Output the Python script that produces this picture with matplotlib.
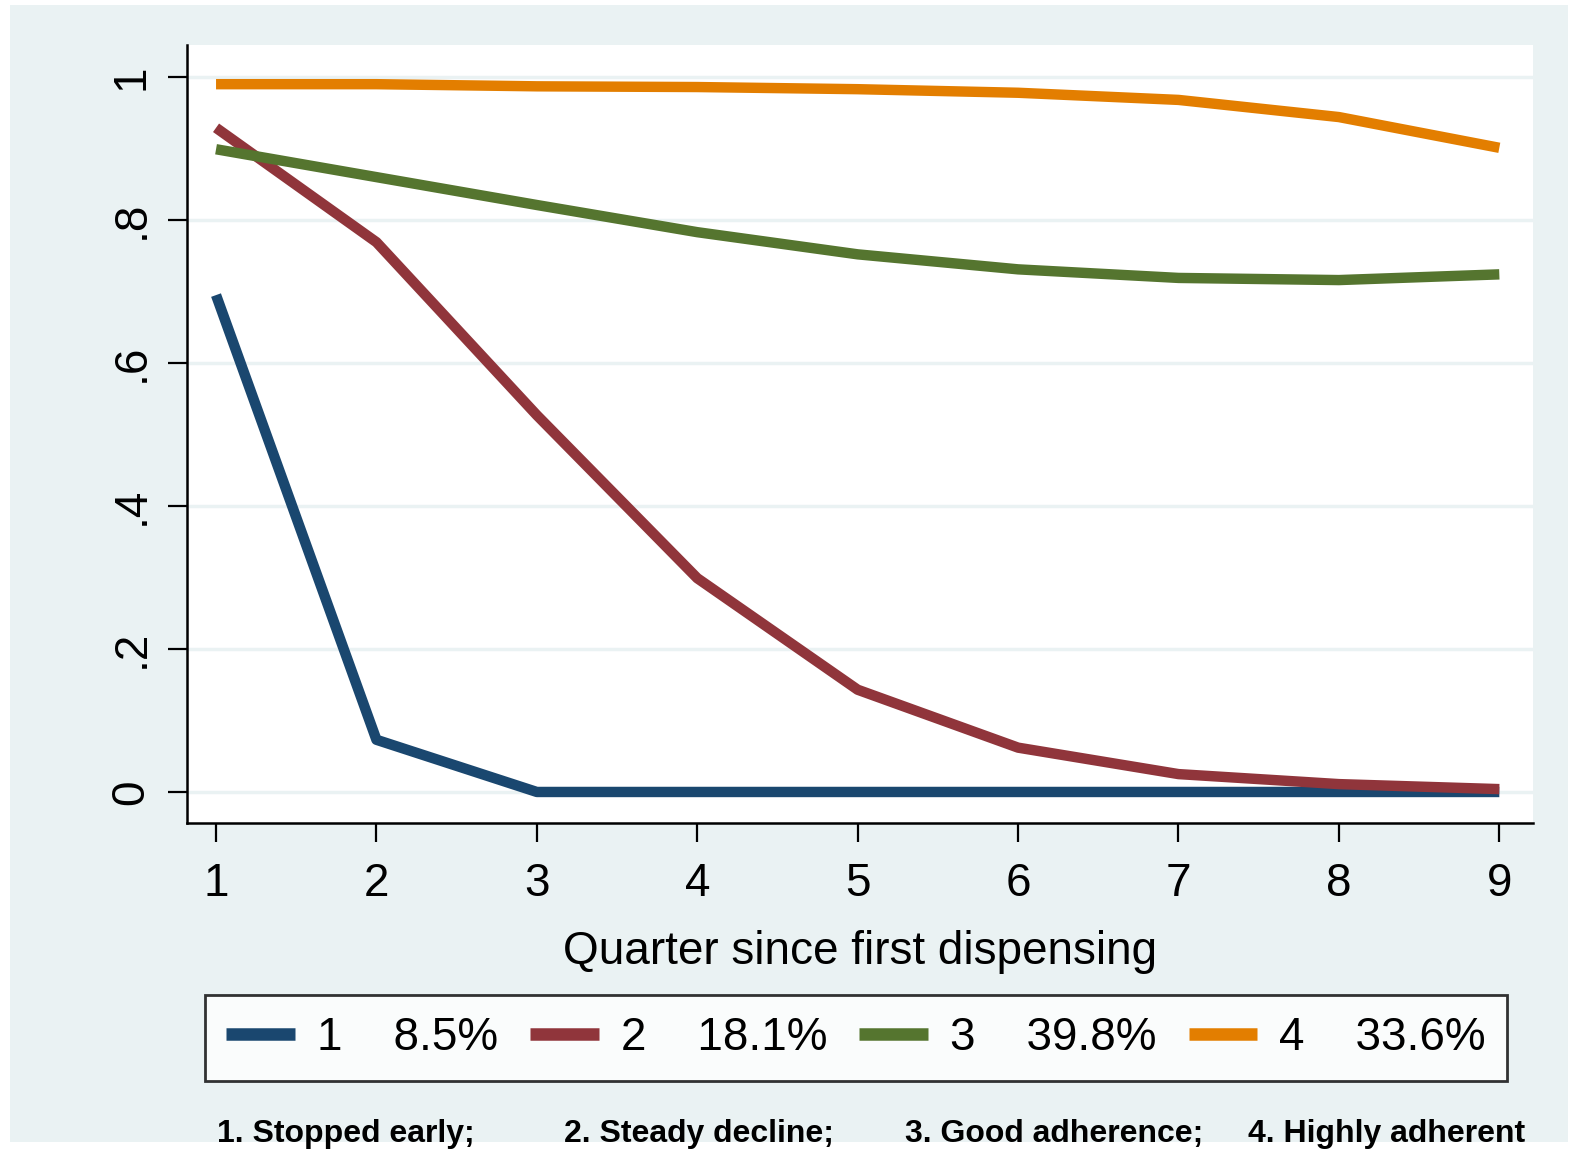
import matplotlib
matplotlib.use('Agg')
import matplotlib.pyplot as plt
from matplotlib.patches import Rectangle

quarters = [1, 2, 3, 4, 5, 6, 7, 8, 9]
groups = ['1', '2', '3', '4']
shares = ['8.5%', '18.1%', '39.8%', '33.6%']
g1 = [0.695, 0.073, 0.0, 0.0, 0.0, 0.0, 0.0, 0.0, 0.0]
g2 = [0.929, 0.769, 0.527, 0.299, 0.143, 0.062, 0.025, 0.011, 0.004]
g3 = [0.899, 0.860, 0.821, 0.783, 0.752, 0.731, 0.719, 0.716, 0.724]
g4 = [0.990, 0.990, 0.987, 0.986, 0.983, 0.978, 0.968, 0.944, 0.901]
yticks = [0, 0.2, 0.4, 0.6, 0.8, 1.0]
ytick_labels = ['0', '.2', '.4', '.6', '.8', '1']
notes = ['1. Stopped early;', '2. Steady decline;', '3. Good adherence;', '4. Highly adherent']
note_x = [346, 699, 1054, 1387]

colors = ['#1A476F', '#90353B', '#55752F', '#E37E00']
bg = '#EAF2F3'

plt.rcParams['font.family'] = ['Liberation Sans', 'DejaVu Sans']

W, H = 1572, 1154
fig = plt.figure(figsize=(W / 100, H / 100), dpi=100)
fig.patch.set_facecolor('white')
fig.patches.append(Rectangle((10 / W, 1 - 1142 / H), 1558 / W, 1137 / H,
                             transform=fig.transFigure, facecolor=bg,
                             edgecolor='none', zorder=-5))

ax = fig.add_axes([187 / W, 1 - 823 / H, (1533 - 187) / W, (823 - 45) / H])
ax.set_zorder(2)
ax.set_facecolor('white')

for vals, c, g, s in zip([g1, g2, g3, g4], colors, groups, shares):
    ax.plot(quarters, vals, color=c, lw=7.5, solid_capstyle='butt',
            label=g + '    ' + s, zorder=3)

ax.set_xlim(0.819, 9.21)
ax.set_ylim(-0.0434, 1.0448)
ax.set_xticks(quarters)
ax.set_xticklabels([str(q) for q in quarters])
ax.set_yticks(yticks)
ax.set_yticklabels(ytick_labels, rotation=90, va='center')
ax.grid(axis='y', color=bg, lw=2.5, zorder=1)
ax.set_axisbelow(True)
for sp in ['top', 'right']:
    ax.spines[sp].set_visible(False)
for sp in ['left', 'bottom']:
    ax.spines[sp].set_linewidth(1.8)
ax.tick_params(axis='both', length=14, width=1.6, labelsize=33)
ax.tick_params(axis='y', pad=10)
ax.tick_params(axis='x', pad=14)
ax.set_xlabel('Quarter since first dispensing', fontsize=33, labelpad=17)

leg = ax.legend(loc='center', bbox_to_anchor=(856 / W, 1 - 1038 / H),
                bbox_transform=fig.transFigure, ncol=4, frameon=True,
                fancybox=False, edgecolor='black', handlelength=1.5,
                handletextpad=0.48, columnspacing=0.7, borderpad=0.45,
                borderaxespad=0, fontsize=33)
leg.get_frame().set_linewidth(2)
for line in leg.get_lines():
    line.set_linewidth(9)

for t, x in zip(notes, note_x):
    fig.text(x / W, 1 - 1134 / H, t, ha='center', va='center',
             fontsize=23, fontweight='bold')

fig.savefig('out.png', dpi=100, facecolor=fig.get_facecolor())
